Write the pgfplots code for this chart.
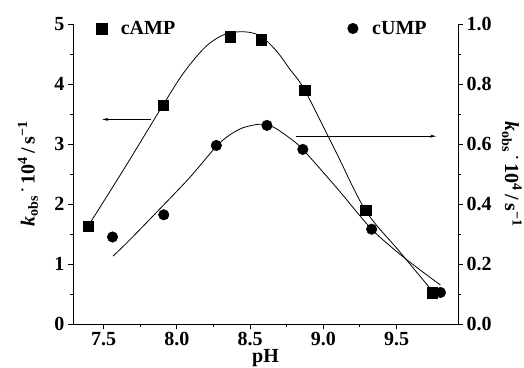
\documentclass[border=0pt]{standalone}
\usepackage{fontspec}
\setmainfont{Liberation Serif}
\usepackage{pgfplots}
\pgfplotsset{compat=1.18}
\usetikzlibrary{arrows.meta}
\newcommand{\klabel}{\textbf{\textit{k}}\textsubscript{obs}\,\textsuperscript{\textbf{·}}\,\textbf{10}\textsuperscript{\textbf{4}}\textbf{\,/\,s}\textsuperscript{\textbf{−1}}}
\begin{document}
\begin{tikzpicture}
\useasboundingbox (-73pt,-43pt) rectangle (451pt,324pt);
\pgfplotsset{
  base/.style={
    scale only axis, width=385pt, height=300pt,
    xmin=7.29, xmax=9.92,
    font=\fontsize{20}{24}\selectfont\bfseries,
    tick label style={font=\fontsize{20}{24}\selectfont\bfseries},
    /pgf/number format/assume math mode=true,
    tick align=outside, major tick length=5pt, minor tick length=3pt,
    axis line style={-, line width=1pt},
    every tick/.style={line width=0.9pt, black},
    minor tick num=1,
    legend style={draw=none, fill=none, font=\fontsize{20}{24}\selectfont\bfseries},
    legend image code/.code={\draw[#1] plot coordinates {(0.15cm,0cm)};},
  }
}
\begin{axis}[base,
  ymin=0, ymax=5,
  axis x line*=bottom, axis y line*=left,
  xtick={7.5,8.0,8.5,9.0,9.5},
  xticklabel style={/pgf/number format/.cd, fixed, fixed zerofill, precision=1},
  ytick={0,1,2,3,4,5},
  xlabel={pH}, ylabel={\klabel},
  xlabel style={at={(axis description cs:0.5,-0.113)}, anchor=center},
  ylabel style={at={(axis description cs:-0.117,0.5)}, anchor=center},
  legend style={at={(0.052,0.985)}, anchor=west},
]
\addplot[only marks, mark=square*, mark size=5.3pt, black] coordinates {
(7.393,1.63) (7.905,3.65) (8.365,4.79) (8.576,4.74) (8.872,3.90) (9.288,1.895) (9.745,0.52)
};
\addlegendentry{\hspace{12pt}cAMP}
\addplot[smooth, tension=0.55, line width=0.8pt, black, forget plot] coordinates {
(7.393,1.63) (7.65,2.63) (7.905,3.65) (8.05,4.20) (8.20,4.63) (8.33,4.83)
(8.46,4.87) (8.57,4.80) (8.68,4.55) (8.77,4.25) (8.872,3.90) (9.08,2.90) (9.288,1.895)
(9.52,1.21) (9.748,0.54)
};
\draw[-{Stealth[length=6pt,width=3pt]}, line width=0.8pt] (axis cs:7.82,3.41) -- (axis cs:7.49,3.41);
\draw[-{Stealth[length=6pt,width=3pt]}, line width=0.8pt] (axis cs:8.81,3.13) -- (axis cs:9.77,3.13);
\end{axis}
\begin{axis}[base,
  ymin=0, ymax=1,
  axis x line=none, axis y line*=right,
  ytick={0,0.2,0.4,0.6,0.8,1.0},
  yticklabel style={/pgf/number format/.cd, fixed, fixed zerofill, precision=1},
  ylabel={\klabel},
  ylabel style={at={(axis description cs:1.14,0.5)}, anchor=center, rotate=180},
  legend style={at={(0.705,0.985)}, anchor=west},
]
\addplot[only marks, mark=*, mark size=5.3pt, black] coordinates {
(7.56,0.290) (7.91,0.364) (8.269,0.595) (8.615,0.662) (8.86,0.582) (9.33,0.316) (9.80,0.105)
};
\addlegendentry{\hspace{12pt}cUMP}
\addplot[smooth, tension=0.45, line width=0.8pt, black, forget plot] coordinates {
(7.563,0.226) (7.677,0.280) (7.88,0.382) (8.087,0.488) (8.269,0.592) (8.36,0.630)
(8.45,0.654) (8.565,0.666) (8.66,0.656) (8.77,0.620) (8.86,0.582) (9.10,0.449)
(9.33,0.316) (9.555,0.220) (9.80,0.130)
};
\end{axis}
\end{tikzpicture}
\end{document}
